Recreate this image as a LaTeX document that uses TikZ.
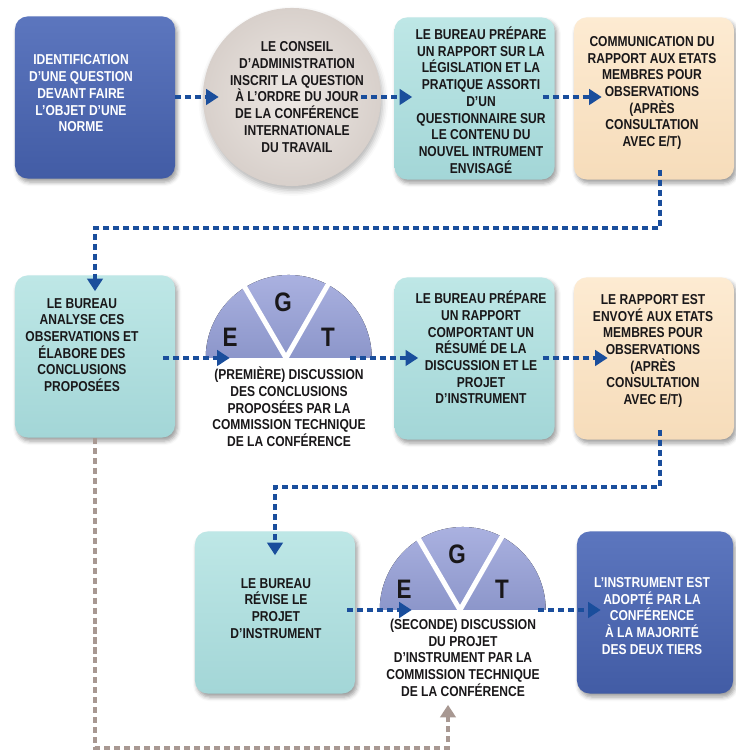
\documentclass[tikz,border=0pt]{standalone}
\usepackage{fontspec}
\setmainfont{Liberation Sans}[FakeStretch=0.84]
\usepackage{tikz}
\usetikzlibrary{arrows.meta,calc,positioning,shadows.blur}
\definecolor{ilotop}{RGB}{92,118,190}
\definecolor{ilobottom}{RGB}{66,92,165}
\definecolor{tealtop}{RGB}{190,231,230}
\definecolor{tealbottom}{RGB}{163,214,215}
\definecolor{peachtop}{RGB}{253,235,210}
\definecolor{peachbottom}{RGB}{246,220,186}
\definecolor{conseilin}{RGB}{237,232,228}
\definecolor{conseilout}{RGB}{216,208,203}
\definecolor{liltop}{RGB}{170,177,224}
\definecolor{lilbottom}{RGB}{140,150,202}
\definecolor{flowblue}{RGB}{26,78,156}
\definecolor{backbrown}{RGB}{168,152,146}
\definecolor{inkdark}{RGB}{25,23,25}
\newcommand{\steptext}{\fontsize{10.2}{11.9}\selectfont\bfseries}
\tikzset{
  stepbox/.style={rounded corners=9pt, minimum width=4cm, minimum height=4.05cm, inner sep=0pt,
    blur shadow={shadow xshift=1.5pt, shadow yshift=-2.5pt, shadow blur radius=3pt, shadow opacity=40}},
  darkbox/.style={stepbox, top color=ilotop, bottom color=ilobottom},   % start / end
  tealbox/.style={stepbox, top color=tealtop, bottom color=tealbottom}, % Bureau
  peachbox/.style={stepbox, top color=peachtop, bottom color=peachbottom}, % Etats membres
  conseil/.style={circle, minimum size=4.45cm, inner sep=0pt, inner color=conseilin, outer color=conseilout,
    blur shadow={shadow xshift=1pt, shadow yshift=-3pt, shadow blur radius=4pt, shadow opacity=30}},
  egtzone/.style={minimum width=4.15cm, minimum height=2.075cm, inner sep=0pt, anchor=south},
  egtfill/.style={top color=liltop, bottom color=lilbottom},
  egtcut/.style={draw=white, line width=3.5pt},
  egtletter/.style={font=\fontsize{19}{19}\selectfont\bfseries, text=inkdark, inner sep=0pt},
  boxtext/.style={align=center, inner sep=0pt, font=\steptext, text=inkdark},
  whitetext/.style={boxtext, text=white},
  flow/.style={draw=flowblue, line width=3.5pt, dash pattern=on 4.3pt off 2.8pt,
    -{Triangle[length=9pt,width=11pt]}, shorten <=-0.3cm, shorten >=-0.6cm},
  backflow/.style={draw=backbrown, line width=3.5pt, dash pattern=on 4.3pt off 2.8pt,
    -{Triangle[length=9pt,width=11pt]}}
}
% half disc with the three groups E / G / T
\newcommand{\DrawEGT}[1]{%
  \fill[egtfill] (#1.south west) arc[start angle=180, end angle=0, radius=2.075cm] -- cycle;
  \draw[egtcut] ($(#1.south)+(122:2.1cm)$) -- ($(#1.south)+(-3,0)$) -- ($(#1.south)+(62:2.1cm)$);
  \node[egtletter] (#1E) at ($(#1.south)+(-59,21)$) {E};
  \node[egtletter] (#1G) at ($(#1.south)+(-6,56)$) {G};
  \node[egtletter] (#1T) at ($(#1.south)+(39,21)$) {T};
}

\begin{document}
\begin{tikzpicture}[x=0.025cm, y=0.025cm]
  \useasboundingbox (0,0) rectangle (735,753);
  % row 1
  \node[darkbox] (b1) at (95,655.5) {};
  \node[whitetext] (b1t) at (81,659.5) {IDENTIFICATION\\D'UNE QUESTION\\DEVANT FAIRE\\L'OBJET D'UNE\\NORME};
  \node[conseil] (c2) at (292,656) {};
  \node[boxtext] (c2t) at (297,656) {LE CONSEIL\\D'ADMINISTRATION\\INSCRIT LA QUESTION\\À L'ORDRE DU JOUR\\DE LA CONFÉRENCE\\INTERNATIONALE\\DU TRAVAIL};
  \node[tealbox] (b3) at (474.5,654.5) {};
  \node[boxtext] (b3t) at (481,653) {LE BUREAU PRÉPARE\\UN RAPPORT SUR LA\\LÉGISLATION ET LA\\PRATIQUE ASSORTI\\D'UN\\QUESTIONNAIRE SUR\\LE CONTENU DU\\NOUVEL INTRUMENT\\ENVISAGÉ};
  \node[peachbox] (b4) at (654,654.5) {};
  \node[boxtext] (b4t) at (652,660) {COMMUNICATION DU\\RAPPORT AUX ETATS\\MEMBRES POUR\\OBSERVATIONS\\(APRÈS\\CONSULTATION\\AVEC E/T)};
  % row 2
  \node[tealbox] (b5) at (95,396.5) {};
  \node[boxtext] (b5t) at (82,408) {LE BUREAU\\ANALYSE CES\\OBSERVATIONS ET\\ÉLABORE DES\\CONCLUSIONS\\PROPOSÉES};
  \node[egtzone] (s1) at (289,395) {};
  \DrawEGT{s1}
  \node[boxtext, below=0.22cm of s1] (cap1) {(PREMIÈRE) DISCUSSION\\DES CONCLUSIONS\\PROPOSÉES PAR LA\\COMMISSION TECHNIQUE\\DE LA CONFÉRENCE};
  \node[tealbox] (b6) at (474.5,394.5) {};
  \node[boxtext] (b6t) at (481,405.5) {LE BUREAU PRÉPARE\\UN RAPPORT\\COMPORTANT UN\\RÉSUMÉ DE LA\\DISCUSSION ET LE\\PROJET\\D'INSTRUMENT};
  \node[peachbox] (b7) at (654,394.5) {};
  \node[boxtext] (b7t) at (653,402) {LE RAPPORT EST\\ENVOYÉ AUX ETATS\\MEMBRES POUR\\OBSERVATIONS\\(APRÈS\\CONSULTATION\\AVEC E/T)};
  % row 3
  \node[tealbox] (b8) at (275,140.5) {};
  \node[boxtext] (b8t) at (276,144.5) {LE BUREAU\\RÉVISE LE\\PROJET\\D'INSTRUMENT};
  \node[egtzone] (s2) at (463,143) {};
  \DrawEGT{s2}
  \node[boxtext, below=0.22cm of s2] (cap2) {(SECONDE) DISCUSSION\\DU PROJET\\D'INSTRUMENT PAR LA\\COMMISSION TECHNIQUE\\DE LA CONFÉRENCE};
  \node[darkbox, minimum width=3.9cm] (b9) at (655,140.5) {};
  \node[whitetext] (b9t) at (652,137) {L'INSTRUMENT EST\\ADOPTÉ PAR LA\\CONFÉRENCE\\À LA MAJORITÉ\\DES DEUX TIERS};
  % turning points of the long connectors
  \coordinate (k1) at (95,525);
  \coordinate (k2) at (275,266);
  \coordinate (k3) at (95,5);
  % connectors
  \draw[flow, shorten <=0pt, shorten >=-0.4cm] (b1.east |- c2.west) -- (c2.west);
  \draw[flow, shorten <=-0.5cm, shorten >=-0.45cm] (c2.east) -- (c2.east -| b3.west);
  \draw[flow, shorten >=-0.7cm] (b3.east |- c2.east) -- (c2.east -| b4.west);
  \draw[flow, shorten <=-0.25cm, shorten >=-0.4cm] ([xshift=0.15cm]b4.south) |- (k1) -- (b5.north);
  \draw[flow] (b5.east |- s1.south west) -- (s1.south west);
  \draw[flow, shorten <=-0.55cm] (s1.south east) -- (s1.south east -| b6.west);
  \draw[flow, shorten >=-0.85cm] (b6.east |- s1.south) -- (s1.south -| b7.west);
  \draw[flow, shorten <=-0.25cm, shorten >=-0.6cm] ([xshift=0.15cm]b7.south) |- (k2) -- (b8.north);
  \draw[flow, shorten <=-0.2cm, shorten >=-0.8cm] (b8.east |- s2.south west) -- (s2.south west);
  \draw[flow, shorten <=-0.2cm] (s2.south east) -- (s2.south east -| b9.west);
  \draw[backflow] (b5.south) -- (k3) -| ([xshift=-0.375cm, yshift=-0.2cm]cap2.south);
\end{tikzpicture}
\end{document}
